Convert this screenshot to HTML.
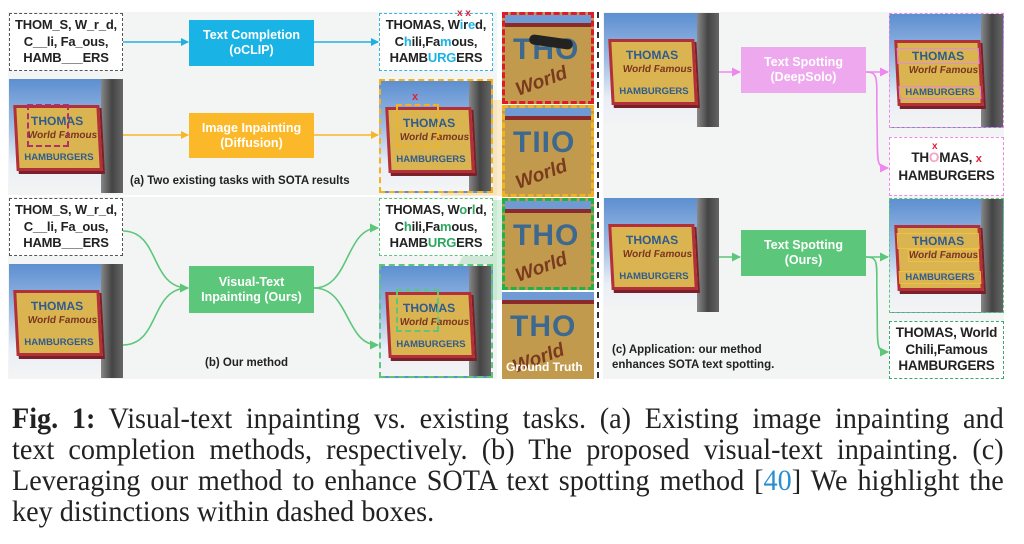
<!DOCTYPE html>
<html><head><meta charset="utf-8"><style>
*{margin:0;padding:0;box-sizing:border-box}
body{width:1024px;height:544px;background:#fff;position:relative;overflow:hidden;font-family:"Liberation Sans",sans-serif}
.a{position:absolute}
.bg{position:absolute;background:#f3f4f4}
.tb{position:absolute;background:#fff;border:1px dashed #555;font-weight:bold;font-size:13px;letter-spacing:-0.2px;line-height:16.5px;text-align:center;color:#222;padding-top:3px;white-space:nowrap}
.box{position:absolute;color:#fff;font-weight:bold;font-size:12.5px;line-height:15px;text-align:center;display:flex;align-items:center;justify-content:center}
.ph{position:absolute;overflow:hidden;background:linear-gradient(180deg,#5d8fd0 0%,#9dbbe4 40%,#e9eef6 75%,#f4f4f4 100%)}
.ph .bd{position:absolute;right:0;top:0;width:22px;height:100%;background:linear-gradient(90deg,#888,#444 50%,#666)}
.ph .sg{position:absolute;left:6px;top:26px;width:86px;height:66px;background:#d9b451;border:3px solid #b2303a;transform:rotate(-3deg) skewY(3deg);box-shadow:2px 3px 0 #7a2028}
.ph .t1,.ph .t2{position:absolute;width:100%;text-align:center;color:#2f5b8e;font-weight:bold}
.ph .t1{top:6px;font-size:12px}
.ph .t2{top:44px;font-size:9.5px}
.ph .t3{position:absolute;top:22px;left:10px;color:#7a3520;font-style:italic;font-size:10px;font-weight:bold}
.cr{position:absolute;overflow:hidden;background:#c29a4d}
.cr .b{position:absolute;left:0;top:0;width:100%;height:8px;background:#6f9ad4}
.cr .r{position:absolute;left:0;top:8px;width:100%;height:4px;background:#8a2a2a}
.cr .T{position:absolute;left:8px;top:18px;font-size:30px;font-weight:bold;color:#3d6890;letter-spacing:1px}
.cr .W{position:absolute;left:10px;top:56px;font-size:19px;font-style:italic;font-weight:bold;color:#7a3a1e;transform:rotate(-20deg)}
.cap{position:absolute;font-weight:bold;font-size:11.5px;color:#222}
.fc{position:absolute;left:12px;width:1055px;transform:scaleX(0.94);transform-origin:0 0;font-family:"Liberation Serif",serif;font-size:30px;color:#222;line-height:31px}
.fc div{text-align:justify;text-align-last:justify;white-space:nowrap}
.fc div.l{text-align-last:left}
</style></head><body>
<div class="bg" style="left:8px;top:12px;width:489px;height:367px"></div>
<div class="bg" style="left:603px;top:12px;width:401px;height:367px"></div>
<div class="a" style="left:8px;top:195px;width:489px;height:2px;background:#fff"></div>

<svg class="a" style="left:0;top:0" width="1024" height="390">
<defs>
<marker id="mb" markerWidth="8" markerHeight="8" refX="7" refY="4" orient="auto" markerUnits="userSpaceOnUse"><path d="M0,0L8,4L0,8z" fill="#1fb0e0"/></marker>
<marker id="mo" markerWidth="8" markerHeight="8" refX="7" refY="4" orient="auto" markerUnits="userSpaceOnUse"><path d="M0,0L8,4L0,8z" fill="#f7b52a"/></marker>
<marker id="mg" markerWidth="9" markerHeight="9" refX="8" refY="4.5" orient="auto" markerUnits="userSpaceOnUse"><path d="M0,0L9,4.5L0,9z" fill="#5cc77a"/></marker>
<marker id="mp" markerWidth="9" markerHeight="9" refX="8" refY="4.5" orient="auto" markerUnits="userSpaceOnUse"><path d="M0,0L9,4.5L0,9z" fill="#ee88ee"/></marker>
</defs>
<g stroke-width="1.6" fill="none">
<path d="M123,42H188" stroke="#1fb0e0" marker-end="url(#mb)"/>
<path d="M314,42H378" stroke="#1fb0e0" marker-end="url(#mb)"/>
<path d="M123,135H188" stroke="#f7b52a" marker-end="url(#mo)"/>
<path d="M314,135H378" stroke="#f7b52a" marker-end="url(#mo)"/>
<path d="M123,231C160,231 150,288 188,288" stroke="#5cc77a" marker-end="url(#mg)"/>
<path d="M123,345C160,345 150,288 188,288" stroke="#5cc77a" marker-end="url(#mg)"/>
<path d="M314,288C350,288 345,228 378,228" stroke="#5cc77a" marker-end="url(#mg)"/>
<path d="M314,288C350,288 345,345 378,345" stroke="#5cc77a" marker-end="url(#mg)"/>
<path d="M719,72H740" stroke="#ee88ee" marker-end="url(#mp)"/>
<path d="M866,72H888" stroke="#ee88ee" marker-end="url(#mp)"/>
<path d="M866,72C880,72 876,80 877,120C878,160 875,168 888,168" stroke="#ee88ee" marker-end="url(#mp)"/>
<path d="M719,257H740" stroke="#5cc77a" marker-end="url(#mg)"/>
<path d="M866,257H888" stroke="#5cc77a" marker-end="url(#mg)"/>
<path d="M866,257C880,257 876,265 877,300C878,345 875,352 888,352" stroke="#5cc77a" marker-end="url(#mg)"/>
</g>
<path d="M598,12V379" stroke="#333" stroke-width="2" stroke-dasharray="6,4"/>
<polygon points="492,200 502,200 502,300 440,300" fill="#5cc77a" opacity="0.25"/>
<polygon points="492,100 502,100 502,196 440,196" fill="#f7b52a" opacity="0.25"/>
</svg>

<!-- (a) -->
<div class="tb" style="left:9px;top:13px;width:114px;height:58px">THOM_S, W_r_d,<br>C__li, Fa_ous,<br>HAMB___ERS</div>
<div class="box" style="left:189px;top:20px;width:125px;height:46px;background:#1ab3e5">Text Completion<br>(oCLIP)</div>
<div class="tb" style="left:379px;top:13px;width:114px;height:58px;border-color:#33b5e0">THOMAS, W<span style="color:#1ab3e5">i</span>r<span style="color:#1ab3e5">e</span>d,<br>C<span style="color:#1ab3e5">h</span>ili,Fa<span style="color:#1ab3e5">m</span>ous,<br>HAMB<span style="color:#1ab3e5">URG</span>ERS</div>
<div class="a" style="left:457px;top:8px;color:#e0203a;font-size:10px;font-weight:bold">x x</div>

<div class="ph" style="left:9px;top:79px;width:114px;height:114px"><div class="bd"></div><div class="sg"><div class="t1">THOMAS</div><div class="t3">World Famous</div><div class="t2">HAMBURGERS</div></div></div>
<div class="a" style="left:27px;top:104px;width:42px;height:43px;border:2px dashed #b0306a"></div>
<div class="box" style="left:189px;top:113px;width:125px;height:45px;background:#fbb829">Image Inpainting<br>(Diffusion)</div>
<div class="ph" style="left:379px;top:79px;width:114px;height:114px;border:2px dashed #f2b321"><div class="bd"></div><div class="sg"><div class="t1">THOMAS</div><div class="t3">World Famous</div><div class="t2">HAMBURGERS</div></div></div>
<div class="a" style="left:396px;top:104px;width:43px;height:43px;border:2px dashed #f2b321"></div>
<div class="a" style="left:412px;top:91px;color:#e0203a;font-size:11px;font-weight:bold">x</div>
<div class="cap" style="left:130px;top:175px">(a) Two existing tasks with SOTA results</div>

<!-- (b) -->
<div class="tb" style="left:9px;top:198px;width:114px;height:58px">THOM_S, W_r_d,<br>C__li, Fa_ous,<br>HAMB___ERS</div>
<div class="box" style="left:189px;top:266px;width:125px;height:47px;background:#5cc77a">Visual-Text<br>Inpainting (Ours)</div>
<div class="ph" style="left:9px;top:264px;width:114px;height:114px"><div class="bd"></div><div class="sg"><div class="t1">THOMAS</div><div class="t3">World Famous</div><div class="t2">HAMBURGERS</div></div></div>
<div class="tb" style="left:379px;top:198px;width:114px;height:58px;border-color:#5cc77a">THOMAS, W<span style="color:#2aa860">o</span>r<span style="color:#2aa860">l</span>d,<br>C<span style="color:#2aa860">h</span>ili,Fa<span style="color:#2aa860">m</span>ous,<br>HAMB<span style="color:#2aa860">URG</span>ERS</div>
<div class="ph" style="left:379px;top:264px;width:114px;height:114px;border:2px dashed #5cc77a"><div class="bd"></div><div class="sg"><div class="t1">THOMAS</div><div class="t3">World Famous</div><div class="t2">HAMBURGERS</div></div></div>
<div class="a" style="left:396px;top:289px;width:43px;height:43px;border:2px dashed #5cc77a"></div>
<div class="cap" style="left:205px;top:357px">(b) Our method</div>

<!-- crops -->
<div class="cr" style="left:502px;top:12px;width:92px;height:92px;border:3px dashed #e01a2a"><div class="b"></div><div class="r"></div><div class="T">THO</div><div class="W">World</div><div class="a" style="left:24px;top:22px;width:44px;height:10px;background:#222;border-radius:5px;transform:rotate(8deg)"></div></div>
<div class="cr" style="left:502px;top:105px;width:92px;height:92px;border:3px dashed #f2b321"><div class="b"></div><div class="r"></div><div class="T">TIIO</div><div class="W">World</div></div>
<div class="cr" style="left:502px;top:198px;width:92px;height:92px;border:3px dashed #22b04a"><div class="b"></div><div class="r"></div><div class="T">THO</div><div class="W">World</div></div>
<div class="cr" style="left:502px;top:292px;width:92px;height:87px"><div class="b"></div><div class="r"></div><div class="T">THO</div><div class="W">World</div><div class="a" style="left:4px;top:68px;color:#fff;font-weight:bold;font-size:12px">Ground Truth</div></div>

<!-- (c) -->
<div class="ph" style="left:604px;top:13px;width:115px;height:114px"><div class="bd"></div><div class="sg"><div class="t1">THOMAS</div><div class="t3">World Famous</div><div class="t2">HAMBURGERS</div></div></div>
<div class="box" style="left:741px;top:47px;width:125px;height:46px;background:#eea8ee">Text Spotting<br>(DeepSolo)</div>
<div class="ph" style="left:889px;top:13px;width:115px;height:115px;border:1px dashed #ee88ee"><div class="bd"></div><div class="sg"><div class="t1" style="outline:1px solid #e08ae0">THOMAS</div><div class="t3">World Famous</div><div class="t2" style="outline:1px solid #e08ae0">HAMBURGERS</div></div></div>
<div class="tb" style="left:889px;top:137px;width:115px;height:59px;border-color:#ee88ee;padding-top:12px;font-size:13.5px">TH<span style="color:#f4a4c4">O</span>MAS, <span style="color:#e0203a;font-size:11px">x</span><br>HAMBURGERS</div>
<div class="a" style="left:932px;top:141px;color:#e0203a;font-size:10px;font-weight:bold">x</div>

<div class="ph" style="left:604px;top:198px;width:115px;height:114px"><div class="bd"></div><div class="sg"><div class="t1">THOMAS</div><div class="t3">World Famous</div><div class="t2">HAMBURGERS</div></div></div>
<div class="box" style="left:741px;top:230px;width:125px;height:46px;background:#5cc77a">Text Spotting<br>(Ours)</div>
<div class="ph" style="left:889px;top:198px;width:115px;height:115px;border:1px dashed #5cc77a"><div class="bd"></div><div class="sg"><div class="t1" style="outline:1px solid #f2c040">THOMAS</div><div class="t3" style="outline:1px solid #f2c040">World Famous</div><div class="t2" style="outline:1px solid #f2c040">HAMBURGERS</div></div></div>
<div class="tb" style="left:889px;top:321px;width:115px;height:58px;border-color:#3aa870;font-size:13.5px">THOMAS, World<br>Chili,Famous<br>HAMBURGERS</div>
<div class="cap" style="left:612px;top:343px;line-height:15px">(c) Application: our method<br>enhances SOTA text spotting.</div>

<div class="fc" style="top:403px">
<div><b>Fig. 1:</b> Visual-text inpainting vs. existing tasks. (a) Existing image inpainting and</div>
<div>text completion methods, respectively. (b) The proposed visual-text inpainting. (c)</div>
<div>Leveraging our method to enhance SOTA text spotting method [<span style="color:#2a8fd0">40</span>] We highlight the</div>
<div class="l">key distinctions within dashed boxes.</div>
</div>
</body></html>
